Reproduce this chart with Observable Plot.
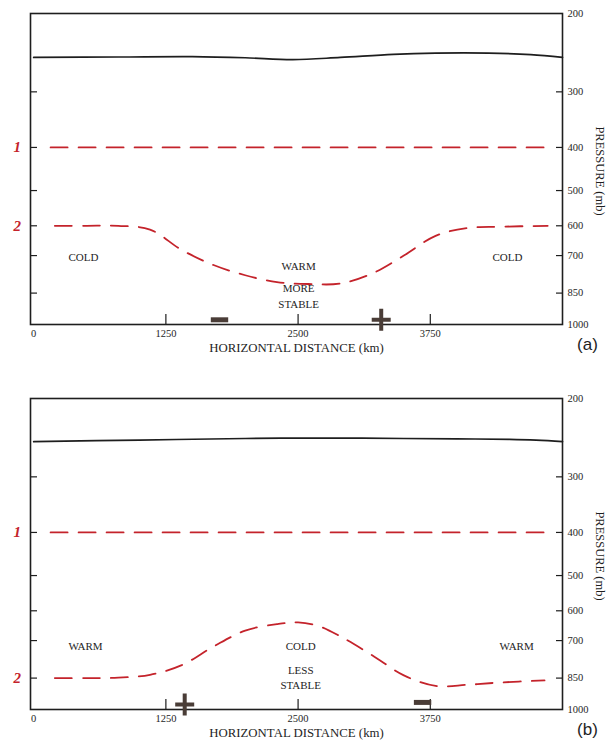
<!DOCTYPE html>
<html>
<head>
<meta charset="utf-8">
<script src="https://cdn.jsdelivr.net/npm/d3@7"></script>
<script src="https://cdn.jsdelivr.net/npm/@observablehq/plot@0.6"></script>
<style>
  html, body { margin: 0; padding: 0; background: white; }
  #chart svg { display: block; }
</style>
</head>
<body>
<div id="chart"></div>
<script>
// ---- shared axis values ----
const pressureTicks = [200, 300, 400, 500, 600, 700, 850, 1000];
const innerPressureTicks = [300, 400, 500, 600, 700, 850];
const distanceLabels = [0, 1250, 2500, 3750];
const distanceTicks = [1250, 2500, 3750];

// ---- panel (a) ----
const topDistA = [0, 800, 1500, 2000, 2450, 2900, 3400, 3800, 4300, 4700, 5000];
const topPresA = [251, 250.5, 250, 251.5, 254, 251, 247, 245.5, 245.5, 247.5, 251];
const level1DistA = [160, 4870];
const level1PresA = [400, 400];
const level2DistA = [200, 500, 800, 1100, 1400, 1700, 2000, 2300, 2600, 2900, 3200, 3500, 3800, 4100, 4400, 4860];
const level2PresA = [600, 600, 600, 612, 680, 735, 775, 803, 811, 809, 768, 700, 632, 607, 603, 600];
const regionTextA = ["COLD", "WARM", "MORE\nSTABLE", "COLD"];
const regionDistA = [470, 2505, 2505, 4480];
const regionPresA = [700, 737, 858, 700];
const plusDistA = [3286];
const plusPresA = [976];
const minusDistA = [1757];
const minusPresA = [976];
const levelNameA = ["1", "2"];
const levelNamePresA = [400, 600];

// ---- panel (b) ----
const topDistB = [0, 1000, 2000, 2500, 3000, 3500, 4000, 4500, 4750, 5000];
const topPresB = [250, 248, 246, 245.5, 245.5, 246, 246.5, 247, 248, 250];
const level1DistB = [160, 4900];
const level1PresB = [400, 400];
const level2DistB = [200, 500, 800, 1100, 1400, 1700, 2000, 2300, 2500, 2700, 2900, 3200, 3500, 3800, 4100, 4400, 4830];
const level2PresB = [850, 850, 848, 836, 795, 722, 665, 643, 637, 650, 685, 755, 838, 885, 880, 870, 860];
const regionTextB = ["WARM", "COLD", "LESS\nSTABLE", "WARM"];
const regionDistB = [490, 2525, 2525, 4566];
const regionPresB = [718, 718, 842, 718];
const plusDistB = [1428];
const plusPresB = [974];
const minusDistB = [3677];
const minusPresB = [964];
const levelNameB = ["1", "2"];
const levelNamePresB = [400, 850];

const xTitle = "HORIZONTAL DISTANCE (km)";
const yTitle = "PRESSURE (mb)";

const RED = "#c4232b";
const INK = "#1e1e1e";
const SIGN = "#4a3d37";

// custom symbols for the heavy + and - signs
const plusSymbol = {
  draw(ctx, size) {
    const r = Math.sqrt(size / Math.PI);
    const hx = 0.95 * r, hy = 1.1 * r, t = 0.2 * r;
    ctx.moveTo(-t, -hy); ctx.lineTo(t, -hy); ctx.lineTo(t, -t); ctx.lineTo(hx, -t);
    ctx.lineTo(hx, t); ctx.lineTo(t, t); ctx.lineTo(t, hy); ctx.lineTo(-t, hy);
    ctx.lineTo(-t, t); ctx.lineTo(-hx, t); ctx.lineTo(-hx, -t); ctx.lineTo(-t, -t);
    ctx.closePath();
  }
};
const minusSymbol = {
  draw(ctx, size) {
    const r = Math.sqrt(size / Math.PI);
    const hx = 0.87 * r, h = 0.25 * r;
    ctx.moveTo(-hx, -h); ctx.lineTo(hx, -h); ctx.lineTo(hx, h); ctx.lineTo(-hx, h);
    ctx.closePath();
  }
};

function zip(xs, ys, extra) {
  return xs.map((x, i) => ({x, y: ys[i], t: extra ? extra[i] : null}));
}

function panel(cfg) {
  const top = zip(cfg.topDist, cfg.topPres);
  const l1 = zip(cfg.l1Dist, cfg.l1Pres);
  const l2 = zip(cfg.l2Dist, cfg.l2Pres);
  const regions = zip(cfg.regionDist, cfg.regionPres, cfg.regionText);
  const plus = zip(cfg.plusDist, cfg.plusPres);
  const minus = zip(cfg.minusDist, cfg.minusPres);
  const names = cfg.levelNamePres.map((p, i) => ({y: p, t: cfg.levelName[i]}));
  return Plot.plot({
    width: 609,
    height: cfg.height,
    marginLeft: 30,
    marginRight: 47,
    marginTop: 13,
    marginBottom: cfg.height - 324,
    x: {domain: [-30, 5000]},
    y: {type: "log", domain: [200, 1000], reverse: true},
    style: {fontFamily: "'Liberation Serif', serif", fontSize: "10px", color: INK, background: "white", overflow: "visible"},
    marks: [
      // axes
      Plot.axisY(pressureTicks, {anchor: "right", tickSize: 0, tickPadding: 5, label: null, tickFormat: d => String(d), fontSize: 10.5}),
      Plot.axisY(innerPressureTicks, {anchor: "right", tickSize: 7, dx: -7, label: null, tickFormat: () => "", strokeWidth: 1.2}),
      Plot.axisY(innerPressureTicks, {anchor: "left", tickSize: 7, dx: 7, label: null, tickFormat: () => "", strokeWidth: 1.2}),
      Plot.axisX(distanceLabels, {anchor: "bottom", tickSize: 0, tickPadding: 5, label: null, tickFormat: d => String(d), fontSize: 10.5}),
      Plot.axisX(distanceTicks, {anchor: "bottom", tickSize: 10, dy: -10, label: null, tickFormat: () => "", strokeWidth: 1.2}),
      Plot.frame({stroke: INK, strokeWidth: 1.6}),
      // solid upper line
      Plot.line(top, {x: "x", y: "y", stroke: INK, strokeWidth: 1.7, curve: "catmull-rom"}),
      // dashed red levels
      Plot.line(l1, {x: "x", y: "y", stroke: RED, strokeWidth: 1.8, strokeDasharray: "17,11"}),
      Plot.line(l2, {x: "x", y: "y", stroke: RED, strokeWidth: 1.8, strokeDasharray: "17,11", curve: "catmull-rom"}),
      // region labels
      Plot.text(regions, {x: "x", y: "y", text: "t", fontSize: 11, lineHeight: 1.4, fill: INK}),
      // + / - signs
      Plot.dot(plus, {x: "x", y: "y", r: 10, symbol: plusSymbol, fill: SIGN, stroke: "none"}),
      Plot.dot(minus, {x: "x", y: "y", r: 10, symbol: minusSymbol, fill: SIGN, stroke: "none"}),
      // level numbers
      Plot.text(names, {frameAnchor: "left", y: "y", text: "t", dx: -17, fontSize: 15, fontStyle: "italic", fontWeight: "bold", fill: RED}),
      // titles
      Plot.text([xTitle], {frameAnchor: "bottom", text: d => d, dy: 27, fontSize: 12.8, fill: INK}),
      Plot.text([yTitle], {frameAnchor: "right", textAnchor: "middle", text: d => d, dx: 37, dy: 2, rotate: 90, fontSize: 12.5, fill: INK}),
      Plot.text([cfg.tag], {frameAnchor: "bottom-right", textAnchor: "middle", text: d => d, dx: 25, dy: 25, fontSize: 17, fontFamily: "'Liberation Sans', Arial, sans-serif", fill: INK})
    ]
  });
}

const chart = document.getElementById("chart");
chart.append(panel({
  height: 385,
  topDist: topDistA, topPres: topPresA,
  l1Dist: level1DistA, l1Pres: level1PresA,
  l2Dist: level2DistA, l2Pres: level2PresA,
  regionText: regionTextA, regionDist: regionDistA, regionPres: regionPresA,
  plusDist: plusDistA, plusPres: plusPresA,
  minusDist: minusDistA, minusPres: minusPresA,
  levelName: levelNameA, levelNamePres: levelNamePresA,
  tag: "(a)"
}));
chart.append(panel({
  height: 361,
  topDist: topDistB, topPres: topPresB,
  l1Dist: level1DistB, l1Pres: level1PresB,
  l2Dist: level2DistB, l2Pres: level2PresB,
  regionText: regionTextB, regionDist: regionDistB, regionPres: regionPresB,
  plusDist: plusDistB, plusPres: plusPresB,
  minusDist: minusDistB, minusPres: minusPresB,
  levelName: levelNameB, levelNamePres: levelNamePresB,
  tag: "(b)"
}));
</script>
</body>
</html>
